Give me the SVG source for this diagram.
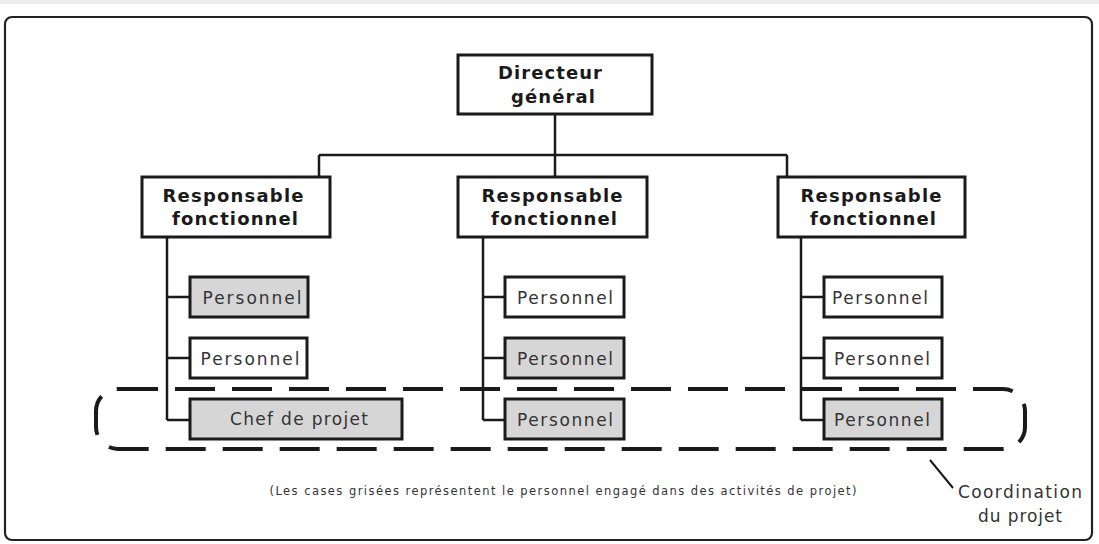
<svg xmlns="http://www.w3.org/2000/svg" width="1099" height="544" viewBox="0 0 1099 544">
<style>
.box{fill:#fff;stroke:#1a1a1a;stroke-width:3}
.g{fill:#d6d6d6}
.t{font-family:"DejaVu Sans","Liberation Sans",Arial,sans-serif;fill:#333;font-size:17px;text-anchor:middle}
.b{font-family:"DejaVu Sans","Liberation Sans",Arial,sans-serif;fill:#1a1a1a;font-size:18px;font-weight:bold;text-anchor:middle}
.c{fill:none;stroke:#1a1a1a;stroke-width:2.5}
</style>
<rect x="0" y="0" width="1099" height="544" fill="#fff"/>
<rect x="0" y="0" width="1099" height="4" fill="#ececec"/>
<rect id="frame" x="5" y="17" width="1087" height="523" rx="7" fill="none" stroke="#222" stroke-width="2.2"/>
<g id="connectors">
<path class="c" d="M555 114V155M319 155H787M319 155V177M555 155V177M787 155V177"/>
<path class="c" d="M167 237V420M167 297H190M167 358H190M167 420H190"/>
<path class="c" d="M483 237V420M483 297H505M483 358H505M483 420H505"/>
<path class="c" d="M801 237V420M801 297H824M801 358H824M801 420H824"/>
</g>
<g id="directeur"><rect class="box" x="458" y="55" width="194" height="59"/>
<text class="b" x="550" y="79" textLength="104" lengthAdjust="spacing">Directeur</text>
<text class="b" x="553" y="103" textLength="84" lengthAdjust="spacing">général</text></g>
<g id="resp1"><rect class="box" x="142" y="177" width="188" height="60"/>
<text class="b" x="233" y="202" textLength="141" lengthAdjust="spacing">Responsable</text>
<text class="b" x="235" y="225" textLength="126" lengthAdjust="spacing">fonctionnel</text></g>
<g id="resp2"><rect class="box" x="458" y="177" width="189" height="60"/>
<text class="b" x="552" y="202" textLength="141" lengthAdjust="spacing">Responsable</text>
<text class="b" x="554" y="225" textLength="126" lengthAdjust="spacing">fonctionnel</text></g>
<g id="resp3"><rect class="box" x="778" y="177" width="187" height="60"/>
<text class="b" x="871" y="202" textLength="141" lengthAdjust="spacing">Responsable</text>
<text class="b" x="873" y="225" textLength="126" lengthAdjust="spacing">fonctionnel</text></g>
<g id="p11"><rect class="box g" x="190" y="277" width="118" height="40"/><text class="t" x="252" y="304" textLength="99" lengthAdjust="spacing">Personnel</text></g>
<g id="p12"><rect class="box" x="190" y="338" width="117" height="40"/><text class="t" x="250" y="365" textLength="99" lengthAdjust="spacing">Personnel</text></g>
<g id="chef"><rect class="box g" x="190" y="399" width="212" height="40"/><text class="t" x="299" y="425" textLength="138" lengthAdjust="spacing">Chef de projet</text></g>
<g id="p21"><rect class="box" x="505" y="277" width="119" height="40"/><text class="t" x="565" y="304" textLength="96" lengthAdjust="spacing">Personnel</text></g>
<g id="p22"><rect class="box g" x="505" y="338" width="119" height="40"/><text class="t" x="565" y="365" textLength="96" lengthAdjust="spacing">Personnel</text></g>
<g id="p23"><rect class="box g" x="505" y="399" width="119" height="40"/><text class="t" x="565" y="426" textLength="96" lengthAdjust="spacing">Personnel</text></g>
<g id="p31"><rect class="box" x="824" y="277" width="118" height="40"/><text class="t" x="880" y="304" textLength="96" lengthAdjust="spacing">Personnel</text></g>
<g id="p32"><rect class="box" x="824" y="338" width="118" height="40"/><text class="t" x="882" y="365" textLength="96" lengthAdjust="spacing">Personnel</text></g>
<g id="p33"><rect class="box g" x="824" y="399" width="118" height="40"/><text class="t" x="882" y="426" textLength="96" lengthAdjust="spacing">Personnel</text></g>
<g id="coordination">
<rect x="96" y="389" width="929" height="60" rx="22" fill="none" stroke="#1a1a1a" stroke-width="4" stroke-dasharray="40 17"/>
<path d="M930 460L953 488" stroke="#1a1a1a" stroke-width="2" fill="none"/>
<text class="t" x="1020" y="498" textLength="124" lengthAdjust="spacing">Coordination</text>
<text class="t" x="1020" y="522" textLength="84" lengthAdjust="spacing">du projet</text>
</g>
<text id="note" x="563" y="495" font-family="DejaVu Sans, Liberation Sans, Arial, sans-serif" font-size="11.5" fill="#333" text-anchor="middle" textLength="587" lengthAdjust="spacing">(Les cases grisées représentent le personnel engagé dans des activités de projet)</text>
</svg>
